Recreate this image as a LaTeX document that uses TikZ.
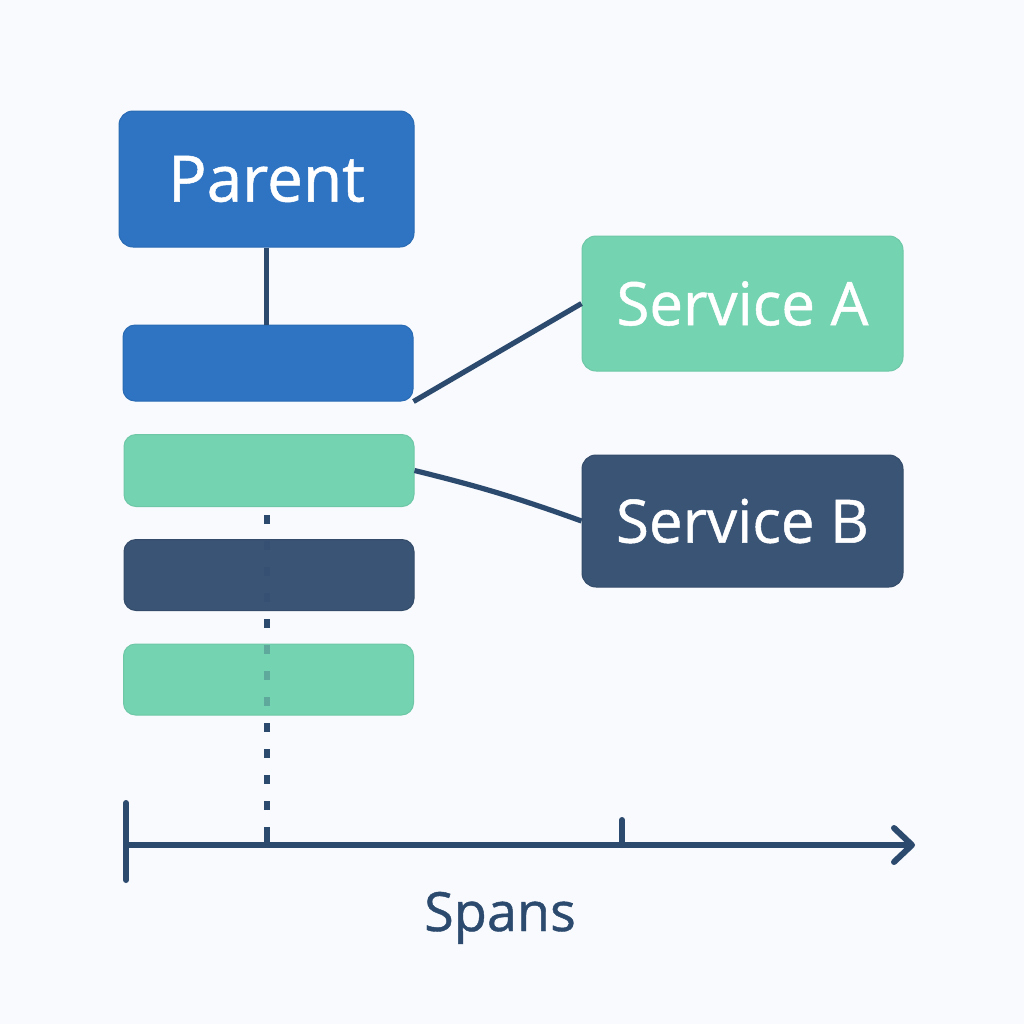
\documentclass[tikz,border=0pt]{standalone}
\usepackage{fontspec}
\newfontfamily\labelfont[FakeBold=0.8]{Open Sans}
\usetikzlibrary{arrows.meta,calc}
\definecolor{bg}{HTML}{F8FAFD}
\definecolor{pblue}{HTML}{2E74C3}
\definecolor{mint}{HTML}{74D3B0}
\definecolor{navy}{HTML}{3A5476}
\definecolor{ink}{HTML}{2C4A6E}
\begin{document}
\begin{tikzpicture}[x=0.5pt,y=-0.5pt,
  box/.style={rectangle, rounded corners=7pt, inner sep=0pt, text=white, line width=0.5pt},
  bar/.style={rectangle, rounded corners=6pt, inner sep=0pt, minimum width=145pt, line width=0.5pt},
  link/.style={draw=ink, line width=2.6pt},
  axisline/.style={draw=ink, line width=3pt, line cap=round, line join=round},
  dashline/.style={draw=ink, line width=2.8pt, dash pattern=on 4.5pt off 8.5pt},
  bigfont/.style={font=\labelfont\fontsize{32}{38}\selectfont},
  svcfont/.style={font=\labelfont\fontsize{30}{36}\selectfont}]
\fill[bg] (0,0) rectangle (1024,1024);
\useasboundingbox (0,0) rectangle (1024,1024);

% parent and first two bars
\node[box, bigfont, fill=pblue, draw=pblue!92!black, minimum width=147.5pt, minimum height=68pt] (parent) at (266.5,179) {Parent};
\node[bar, fill=pblue, draw=pblue!92!black, minimum height=38pt] (bar1) at (268,363) {};
\node[bar, fill=mint, draw=mint!95!black, minimum height=36pt] (bar2) at (269,470.5) {};

% service boxes
\node[box, svcfont, fill=mint, draw=mint!95!black, minimum width=160.5pt, minimum height=67.5pt] (sa) at (742.5,303.5) {Service A};
\node[box, svcfont, fill=navy, draw=navy!90!black, minimum width=160.5pt, minimum height=66pt] (sb) at (742.5,521) {Service B};

% axis coordinates
\coordinate (ax0) at (126,845);
\coordinate (axend) at (915,845);
\coordinate (t1) at (267,845);
\coordinate (t2) at (622,845);
\coordinate (d0) at (267,515);
\coordinate (d1) at (267,814);

% dashed marker line (under the lower bars)
\draw[dashline] (d0) -- (d1);

% lower bars
\node[bar, fill=navy, draw=navy!90!black, minimum height=35.5pt] (bar3) at (269,575) {};
\node[bar, fill=mint, draw=mint!95!black, minimum height=35.5pt] (bar4) at (268.5,679.5) {};

% dashed marker seen faintly through the bars
\draw[dashline, draw opacity=0.3] (d0) -- (d1);

% connectors
\draw[link] (parent.south) -- (parent.south |- bar1.north);
\draw[link] (bar1.south east) -- (sa.west);
\draw[link] (bar2.east) to[bend left=3] (sb.west);

% time axis
\draw[axisline, -{Straight Barb[round, length=9pt, width=17pt]}] (ax0) -- (axend);
\draw[axisline] ($(ax0)+(0,-42)$) -- ($(ax0)+(0,35)$);
\draw[axisline, line cap=butt] ($(t1)+(0,-18)$) -- (t1);
\draw[axisline] ($(t2)+(0,-25)$) -- (t2);

\node[anchor=base, text=ink, font=\labelfont\fontsize{27}{32}\selectfont] (spans) at (500,931) {Spans};
\end{tikzpicture}
\end{document}
